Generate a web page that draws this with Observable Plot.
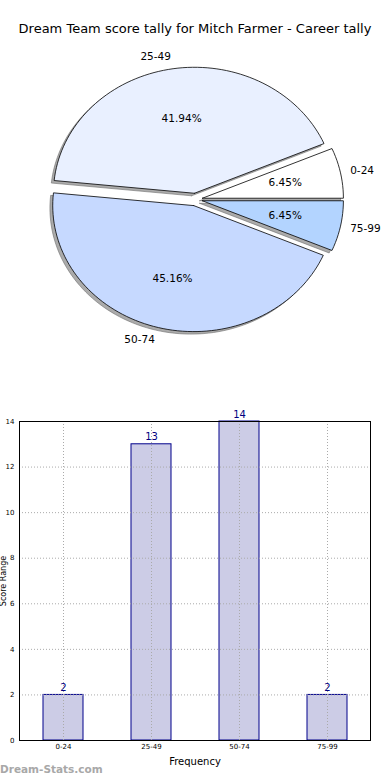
<!DOCTYPE html>
<html>
<head>
<meta charset="utf-8">
<script src="https://cdn.jsdelivr.net/npm/d3@7"></script>
<script src="https://cdn.jsdelivr.net/npm/@observablehq/plot@0.6"></script>
<style>
  html, body { margin: 0; padding: 0; background: #fff; }
  #wrap { position: relative; width: 390px; height: 780px; overflow: hidden; font-family: "DejaVu Sans", sans-serif; }
  #title { position: absolute; top: 21px; left: 0; width: 390px; text-align: center; font-size: 13px; color: #000; }
  #pie { position: absolute; top: 0; left: 0; }
  #bar { position: absolute; top: 400px; left: 0; }
  #wm { position: absolute; left: 0; top: 763px; font-size: 10.5px; font-weight: bold; color: #a8a8a8; }
  #bar [aria-label="x-axis label"] text { font-size: 10px; }
  #bar [aria-label="y-axis label"] text { font-size: 8px; }
</style>
</head>
<body>
<div id="wrap">
  <div id="pie"></div>
  <div id="title">Dream Team score tally for Mitch Farmer - Career tally</div>
  <div id="bar"></div>
  <div id="wm">Dream-Stats.com</div>
</div>
<script>
// ---- data ----
const categories = ["0-24", "25-49", "50-74", "75-99"];
const counts = [2, 13, 14, 2];
const pieColors = ["#ffffff", "#e9f0ff", "#c6d9ff", "#b3d4ff"];
const yTicks = [0, 2, 4, 6, 8, 10, 12, 14];
const chartTitle = "Dream Team score tally for Mitch Farmer - Career tally";
const xLabel = "Frequency";
const yLabel = "Score Range";

// ---- pie geometry (unit radius, counterclockwise from 0 rad) ----
const total = d3.sum(counts);
const explode = 0.05;
let acc = 0;
const slices = counts.map((v, i) => {
  const a0 = acc; acc += v / total * 2 * Math.PI;
  const a1 = acc, mid = (a0 + a1) / 2;
  const cx = explode * Math.cos(mid), cy = explode * Math.sin(mid);
  const pts = [{x: cx, y: cy}];
  const n = Math.max(4, Math.ceil((a1 - a0) / (Math.PI / 90)));
  for (let k = 0; k <= n; k++) {
    const t = a0 + (a1 - a0) * k / n;
    pts.push({x: cx + Math.cos(t), y: cy + Math.sin(t)});
  }
  pts.push({x: cx, y: cy});
  const pct = (v / total * 100).toFixed(2) + "%";
  const ld = Math.cos(mid) >= 0 ? 1.07 : 1.1;
  return {i, cat: categories[i], a0, a1, mid, cx, cy, pts, pct,
    lx: cx + ld * Math.cos(mid), ly: cy + 1.1 * Math.sin(mid),
    px: cx + 0.6 * Math.cos(mid), py: cy + 0.6 * Math.sin(mid)};
});

const W = 390, PH = 345, CX = 195, CY = 199, RX = 141, RY = 126;
const pieMarks = [];
slices.forEach(s => {
  pieMarks.push(Plot.line(s.pts.map(p => ({x: p.x - 0.02, y: p.y - 0.02})),
    {x: "x", y: "y", fill: "#666", fillOpacity: 0.55, stroke: "#666", strokeOpacity: 0.55, strokeWidth: 1}));
});
slices.forEach(s => {
  pieMarks.push(Plot.line(s.pts, {x: "x", y: "y", fill: pieColors[s.i], stroke: "#000", strokeWidth: 0.8}));
});
pieMarks.push(Plot.text(slices.filter(s => Math.cos(s.mid) >= 0), {x: "lx", y: "ly", text: "cat", textAnchor: "start", fontSize: 10.5, fill: "#000"}));
pieMarks.push(Plot.text(slices.filter(s => Math.cos(s.mid) < 0), {x: "lx", y: "ly", text: "cat", textAnchor: "end", fontSize: 10.5, fill: "#000"}));
pieMarks.push(Plot.text(slices, {x: "px", y: "py", text: "pct", fontSize: 10.5, fill: "#000"}));

const pie = Plot.plot({
  width: W, height: PH,
  margin: 0,
  style: {fontFamily: "DejaVu Sans", background: "transparent", overflow: "visible"},
  x: {domain: [-CX / RX, (W - CX) / RX], range: [0, W], axis: null},
  y: {domain: [-(PH - CY) / RY, CY / RY], range: [PH, 0], axis: null},
  marks: pieMarks
});
document.getElementById("pie").appendChild(pie);

// ---- bar chart ----
const barData = categories.map((c, i) => ({cat: c, count: counts[i]}));
const bar = Plot.plot({
  width: W, height: 380,
  marginTop: 21, marginBottom: 40, marginLeft: 19, marginRight: 20,
  style: {fontFamily: "DejaVu Sans", background: "transparent", overflow: "visible"},
  x: {type: "band", domain: categories, paddingInner: 0.55, paddingOuter: 0.267, align: 0.5},
  y: {domain: [0, 14]},
  marks: [
    Plot.barY(barData, {x: "cat", y: "count", fill: "#ccccE6", stroke: "#00008b", strokeWidth: 1}),
    Plot.gridY({ticks: yTicks.slice(1, -1), stroke: "#aaa", strokeOpacity: 1, strokeDasharray: "1,2"}),
    Plot.gridX({stroke: "#aaa", strokeOpacity: 1, strokeDasharray: "1,2"}),
    Plot.frame({stroke: "#000"}),
    Plot.text(barData, {x: "cat", y: "count", text: d => String(d.count), lineAnchor: "bottom", dy: -4, fontSize: 10, fill: "#000080"}),
    Plot.axisY({ticks: yTicks, tickSize: 0, tickPadding: 5, fontSize: 7, label: yLabel, labelAnchor: "center", labelArrow: "none", labelOffset: 19}),
    Plot.axisX({tickSize: 0, tickPadding: 4, fontSize: 7, label: xLabel, labelAnchor: "center", labelArrow: "none", labelOffset: 24})
  ]
});
document.getElementById("bar").appendChild(bar);
</script>
</body>
</html>
